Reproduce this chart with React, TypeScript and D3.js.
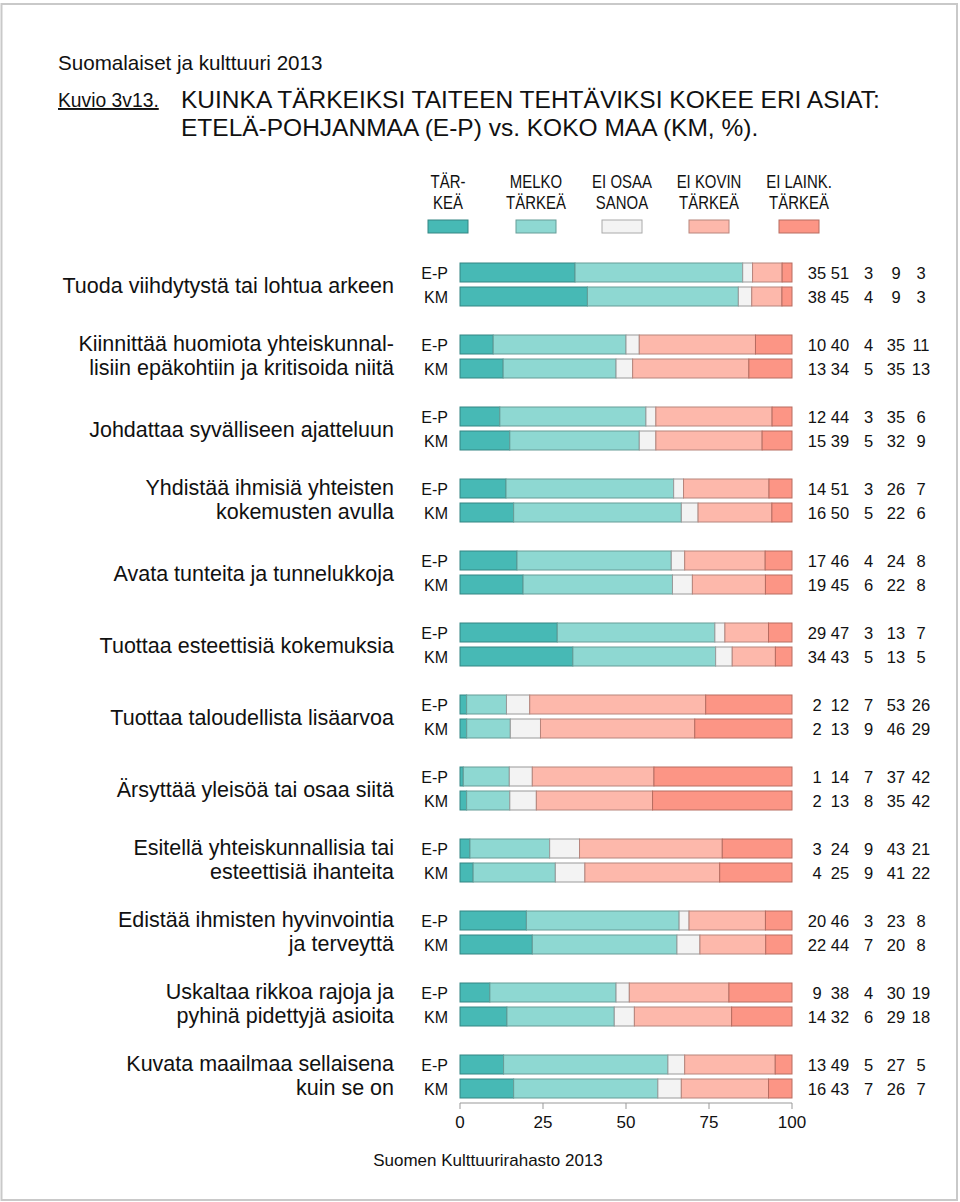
import React from "react";
import * as d3 from "d3";

const categories: string[][] = [
  ["Tuoda viihdytystä tai lohtua arkeen"],
  ["Kiinnittää huomiota yhteiskunnal-", "lisiin epäkohtiin ja kritisoida niitä"],
  ["Johdattaa syvälliseen ajatteluun"],
  ["Yhdistää ihmisiä yhteisten", "kokemusten avulla"],
  ["Avata tunteita ja tunnelukkoja"],
  ["Tuottaa esteettisiä kokemuksia"],
  ["Tuottaa taloudellista lisäarvoa"],
  ["Ärsyttää yleisöä tai osaa siitä"],
  ["Esitellä yhteiskunnallisia tai", "esteettisiä ihanteita"],
  ["Edistää ihmisten hyvinvointia", "ja terveyttä"],
  ["Uskaltaa rikkoa rajoja ja", "pyhinä pidettyjä asioita"],
  ["Kuvata maailmaa sellaisena", "kuin se on"],
];

const groups = ["E-P", "KM"];

const epValues: number[][] = [
  [35, 51, 3, 9, 3],
  [10, 40, 4, 35, 11],
  [12, 44, 3, 35, 6],
  [14, 51, 3, 26, 7],
  [17, 46, 4, 24, 8],
  [29, 47, 3, 13, 7],
  [2, 12, 7, 53, 26],
  [1, 14, 7, 37, 42],
  [3, 24, 9, 43, 21],
  [20, 46, 3, 23, 8],
  [9, 38, 4, 30, 19],
  [13, 49, 5, 27, 5],
];

const kmValues: number[][] = [
  [38, 45, 4, 9, 3],
  [13, 34, 5, 35, 13],
  [15, 39, 5, 32, 9],
  [16, 50, 5, 22, 6],
  [19, 45, 6, 22, 8],
  [34, 43, 5, 13, 5],
  [2, 13, 9, 46, 29],
  [2, 13, 8, 35, 42],
  [4, 25, 9, 41, 22],
  [22, 44, 7, 20, 8],
  [14, 32, 6, 29, 18],
  [16, 43, 7, 26, 7],
];

const legendLabels: string[][] = [
  ["TÄR-", "KEÄ"],
  ["MELKO", "TÄRKEÄ"],
  ["EI OSAA", "SANOA"],
  ["EI KOVIN", "TÄRKEÄ"],
  ["EI LAINK.", "TÄRKEÄ"],
];

const colors = ["#47b9b5", "#8ed8d2", "#f3f3f3", "#fdb8ab", "#fc9585"];
const xTicks = [0, 25, 50, 75, 100];

const FONT = "'Liberation Sans', Arial, Helvetica, sans-serif";

export default function App() {
  const W = 960;
  const H = 1202;
  const x = d3.scaleLinear().domain([0, 100]).range([460, 792]);
  const yGroup = d3
    .scaleBand<number>()
    .domain(d3.range(categories.length))
    .range([263, 263 + 72 * categories.length])
    .paddingInner(0)
    .paddingOuter(0);
  const barH = 19;
  const subOffset = (g: string) => (g === groups[0] ? 0 : 24);
  const numCols = [817, 840, 868.5, 896, 921];
  const legendX = [448, 536, 622, 709, 799];

  const rows: { gi: number; g: string; vals: number[] }[] = [];
  categories.forEach((_, gi) => {
    rows.push({ gi, g: groups[0], vals: epValues[gi] });
    rows.push({ gi, g: groups[1], vals: kmValues[gi] });
  });

  const stroke = (c: string) => d3.color(c)!.darker(0.9).formatHex();

  return (
    <svg
      width={W}
      height={H}
      style={{ position: "absolute", left: 0, top: 0, background: "#fff" }}
      fontFamily={FONT}
    >
      <rect x={0} y={0} width={W} height={H} fill="#fff" />
      <rect x={1.5} y={4} width={955.5} height={1196} fill="none" stroke="#c9c9c9" strokeWidth={2} />

      <text x={58} y={70} fontSize={20.6} fill="#111">Suomalaiset ja kulttuuri 2013</text>
      <text x={58} y={107} fontSize={19.3} fill="#111" textDecoration="underline">Kuvio 3v13.</text>
      <text x={181} y={108} fontSize={24.5} fill="#111">KUINKA TÄRKEIKSI TAITEEN TEHTÄVIKSI KOKEE ERI ASIAT:</text>
      <text x={181} y={136} fontSize={24.5} fill="#111">ETELÄ-POHJANMAA (E-P) vs. KOKO MAA (KM, %).</text>

      {legendLabels.map((lines, i) => (
        <g key={"lg" + i}>
          {lines.map((t, li) => (
            <text
              key={li}
              transform={`translate(${legendX[i]},${188 + li * 20.5}) scale(0.83,1)`}
              textAnchor="middle"
              fontSize={18}
              fill="#111"
            >
              {t}
            </text>
          ))}
          <rect
            x={legendX[i] - 20}
            y={220}
            width={40}
            height={13}
            fill={colors[i]}
            stroke={i === 2 ? "#aaa" : stroke(colors[i])}
            strokeWidth={1}
          />
        </g>
      ))}

      {categories.map((lines, gi) => {
        const top = yGroup(gi)!;
        const center = top + 21.5;
        return (
          <g key={"cat" + gi}>
            {lines.length === 1 ? (
              <text x={394} y={center + 8} textAnchor="end" fontSize={21.5} fill="#111">
                {lines[0]}
              </text>
            ) : (
              lines.map((t, li) => (
                <text key={li} x={394} y={top + 9.5 + li * 24 + 6} textAnchor="end" fontSize={21.5} fill="#111">
                  {t}
                </text>
              ))
            )}
          </g>
        );
      })}

      {rows.map((r, ri) => {
        const y0 = yGroup(r.gi)! + subOffset(r.g);
        const total = d3.sum(r.vals);
        const cum = d3.cumsum(r.vals);
        return (
          <g key={"row" + ri}>
            <text x={448} y={y0 + barH / 2 + 6} textAnchor="end" fontSize={16} fill="#111">
              {r.g}
            </text>
            {r.vals.map((v, k) => {
              const a = ((cum[k] - v) / total) * 100;
              const b = (cum[k] / total) * 100;
              return (
                <rect
                  key={k}
                  x={x(a)}
                  y={y0}
                  width={Math.max(0, x(b) - x(a))}
                  height={barH}
                  fill={colors[k]}
                  stroke={k === 2 ? "#9a9a9a" : stroke(colors[k])}
                  strokeWidth={1}
                />
              );
            })}
            {r.vals.map((v, k) => (
              <text key={"n" + k} x={numCols[k]} y={y0 + barH / 2 + 6} textAnchor="middle" fontSize={16.5} fill="#111">
                {v}
              </text>
            ))}
          </g>
        );
      })}

      <g>
        <line x1={x(0)} x2={x(100)} y1={1103} y2={1103} stroke="#999" />
        {xTicks.map((t) => (
          <g key={"t" + t}>
            <line x1={x(t)} x2={x(t)} y1={1103} y2={1109} stroke="#999" />
            <text x={x(t)} y={1128} textAnchor="middle" fontSize={17} fill="#111">
              {t}
            </text>
          </g>
        ))}
      </g>

      <text x={488} y={1166} textAnchor="middle" fontSize={17} fill="#111">Suomen Kulttuurirahasto 2013</text>
    </svg>
  );
}
